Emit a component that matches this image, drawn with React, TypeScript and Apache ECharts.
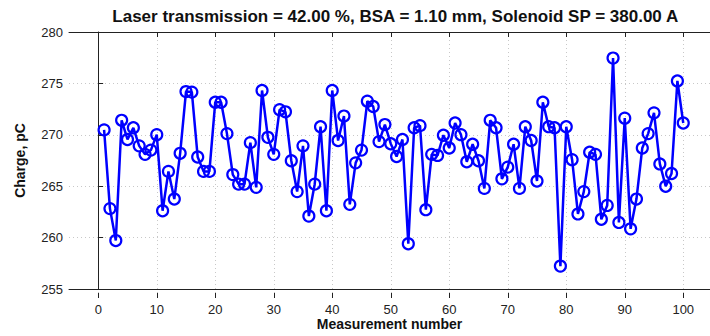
import React, { useEffect, useRef } from "react";
import * as echarts from "echarts";

const titleText = "Laser transmission = 42.00 %, BSA = 1.10 mm, Solenoid SP = 380.00 A";
const xName = "Measurement number";
const yName = "Charge, pC";

const measurementNumbers: number[] = Array.from({ length: 100 }, (_, i) => i + 1);
const charge: number[] = [
  270.8, 263.4, 260.4, 271.7, 269.9, 271.0, 269.3, 268.5, 268.9, 270.35,
  263.2, 266.9, 264.3, 268.6, 274.4, 274.35, 268.25, 266.9, 266.9, 273.4,
  273.4, 270.45, 266.6, 265.7, 265.7, 269.6, 265.4, 274.5, 270.1, 268.5,
  272.7, 272.5, 267.9, 265.0, 269.3, 262.7, 265.7, 271.1, 263.2, 274.5,
  269.8, 272.1, 263.8, 267.7, 268.9, 273.5, 273.0, 269.7, 271.3, 269.5,
  268.3, 269.9, 260.1, 271.0, 271.2, 263.3, 268.5, 268.4, 270.3, 269.1,
  271.45, 270.35, 267.8, 269.45, 267.9, 265.3, 271.7, 271.0, 266.2, 267.3,
  269.45, 265.3, 271.1, 269.8, 266.0, 273.4, 271.1, 271.0, 258.0, 271.1,
  268.0, 262.9, 265.0, 268.7, 268.5, 262.4, 263.7, 277.55, 262.1, 271.9,
  261.5, 264.3, 269.1, 270.45, 272.4, 267.6, 265.5, 266.7, 275.4, 271.45,
];
const xTicks = { min: 0, max: 100, interval: 10 };
const xFrame = { min: -5, max: 105 };
const yTicks = { min: 255, max: 280, interval: 5 };

const FONT = "'Liberation Sans', Arial, Helvetica, sans-serif";

export default function App() {
  const ref = useRef<HTMLDivElement>(null);
  useEffect(() => {
    if (!ref.current) return;
    const chart = echarts.init(ref.current, undefined, { renderer: "svg" });
    const frameLeft = 69;
    const frameWidth = 643.5;
    const unit = frameWidth / (xFrame.max - xFrame.min);
    const dataLeft = frameLeft + (xTicks.min - xFrame.min) * unit;
    const dataWidth = (xTicks.max - xTicks.min) * unit;
    const top = 32;
    const height = 266;
    const grid = { color: "#c8c8c8", type: [1, 3] as any, width: 1 };
    chart.setOption({
      animation: false,
      backgroundColor: "#ffffff",
      title: {
        text: titleText,
        left: frameLeft + frameWidth / 2 - 0.5,
        textAlign: "center",
        top: 3,
        textStyle: { fontFamily: FONT, fontSize: 17, fontWeight: "bold", color: "#111" },
      },
      grid: [
        { left: frameLeft, top, width: frameWidth, height, containLabel: false },
        { left: dataLeft, top, width: dataWidth, height, containLabel: false },
      ],
      xAxis: [
        {
          type: "value", gridIndex: 0, min: xFrame.min, max: xFrame.max, position: "bottom",
          axisLine: { show: true, lineStyle: { color: "#222", width: 1 } },
          axisTick: { show: false }, axisLabel: { show: false }, splitLine: { show: false },
          name: xName, nameLocation: "middle", nameGap: 28,
          nameTextStyle: { fontFamily: FONT, fontSize: 14, fontWeight: "bold", color: "#111", lineHeight: 14 },
        },
        {
          type: "value", gridIndex: 0, min: xFrame.min, max: xFrame.max, position: "top",
          axisLine: { show: true, lineStyle: { color: "#222", width: 1 } },
          axisTick: { show: false }, axisLabel: { show: false }, splitLine: { show: false },
        },
        {
          type: "value", gridIndex: 1, min: xTicks.min, max: xTicks.max, interval: xTicks.interval, position: "bottom",
          axisLine: { show: false },
          axisTick: { show: true, inside: true, length: 5, lineStyle: { color: "#222" } },
          axisLabel: { show: true, margin: 5, fontFamily: FONT, fontSize: 13, color: "#222", lineHeight: 13 },
          splitLine: { show: true, lineStyle: grid },
        },
        {
          type: "value", gridIndex: 1, min: xTicks.min, max: xTicks.max, interval: xTicks.interval, position: "top",
          axisLine: { show: false },
          axisTick: { show: true, inside: true, length: 5, lineStyle: { color: "#222" } },
          axisLabel: { show: false }, splitLine: { show: false },
        },
      ],
      yAxis: [
        {
          type: "value", gridIndex: 0, min: yTicks.min, max: yTicks.max, interval: yTicks.interval,
          axisLine: { show: true, lineStyle: { color: "#222", width: 1 } },
          axisTick: { show: true, inside: true, length: 5, lineStyle: { color: "#222" } },
          axisLabel: { margin: 6, fontFamily: FONT, fontSize: 13, color: "#222" },
          splitLine: { show: true, lineStyle: grid },
          name: yName, nameLocation: "middle", nameGap: 42, nameRotate: 90,
          nameTextStyle: { fontFamily: FONT, fontSize: 14, fontWeight: "bold", color: "#111" },
        },
        {
          type: "value", gridIndex: 1, min: yTicks.min, max: yTicks.max, interval: yTicks.interval,
          show: false, splitLine: { show: false },
        },
      ],
      series: [
        {
          type: "line",
          xAxisIndex: 2,
          yAxisIndex: 1,
          data: measurementNumbers.map((n, i) => [n, charge[i]]),
          symbol: "circle",
          symbolSize: 11,
          showAllSymbol: true,
          clip: false,
          lineStyle: { color: "#0000ff", width: 2.5 },
          itemStyle: { color: "rgba(0,0,0,0)", borderColor: "#0000ff", borderWidth: 2.2 },
          emphasis: { disabled: true },
        },
      ],
    });
    return () => chart.dispose();
  }, []);
  return (
    <div
      ref={ref}
      style={{ position: "absolute", left: 0, top: 0, width: 710, height: 336 }}
    />
  );
}
